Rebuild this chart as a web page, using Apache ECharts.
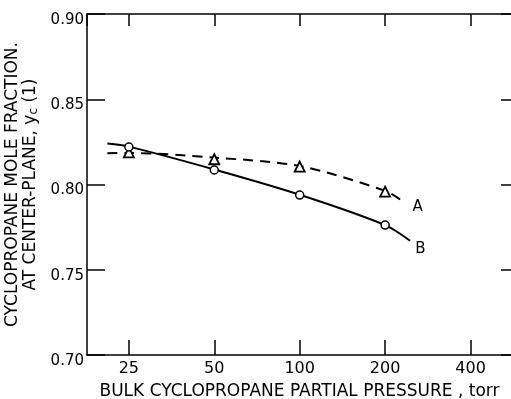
<!DOCTYPE html>
<html>
<head>
<meta charset="utf-8">
<script src="https://cdn.jsdelivr.net/npm/echarts@6/dist/echarts.min.js"></script>
<style>
  html, body { margin: 0; padding: 0; background: #fff; }
  #chart { width: 511px; height: 399px; }
</style>
</head>
<body>
<div id="chart"></div>
<script>
// x axis is logarithmic: ticks at 25, 50, 100, 200, 400 torr (doublings from 25)
const basePressure = 25
const xMinPressure = 17.8
const xMaxPressure = 560

// curve A (dashed) and curve B (solid)
const curveAPressure = [21, 25, 50, 100, 200, 234]
const curveAFraction = [0.8183, 0.8185, 0.8158, 0.8108, 0.7963, 0.7894]
const curveBPressure = [21, 25, 50, 100, 200, 245]
const curveBFraction = [0.8240, 0.8222, 0.8088, 0.7940, 0.7762, 0.7670]

// measured points
const pointPressure = [25, 50, 100, 200]
const pointsA = [0.8188, 0.8148, 0.8105, 0.7958]
const pointsB = [0.8220, 0.8085, 0.7938, 0.7762]

const lg = p => Math.log2(p / basePressure)
const pairs = (xs, ys) => xs.map((x, i) => [lg(x), ys[i]])

const font = 'DejaVu Sans'
const black = '#000'

let chart = echarts.init(document.getElementById('chart'))

const xBase = {
  type: 'value',
  min: lg(xMinPressure),
  max: lg(xMaxPressure),
  splitNumber: 5,
  axisLine: { show: true, onZero: false, lineStyle: { color: black, width: 1.5 } },
  splitLine: { show: false }
}
const yBase = {
  type: 'value',
  min: 0.70,
  max: 0.90,
  interval: 0.05,
  axisLine: { show: true, onZero: false, lineStyle: { color: black, width: 1.5 } },
  splitLine: { show: false }
}

let option = {
  animation: false,
  grid: { left: 87, right: -1, top: 14, bottom: 44, containLabel: false, outerBoundsMode: 'none' },
  xAxis: [
    Object.assign({}, xBase, {
      position: 'bottom',
      axisTick: { show: true, inside: true, length: 15, lineStyle: { color: black, width: 1.5 } },
      axisLabel: {
        showMinLabel: false,
        showMaxLabel: false,
        formatter: v => String(Math.round(basePressure * Math.pow(2, v))),
        color: black, fontFamily: font, fontSize: 16, margin: 6
      },
      name: 'BULK CYCLOPROPANE PARTIAL PRESSURE , torr',
      nameLocation: 'middle',
      nameGap: 28,
      nameTextStyle: { color: black, fontFamily: font, fontSize: 17 }
    }),
    Object.assign({}, xBase, {
      position: 'top',
      axisTick: { show: true, inside: true, length: 12, lineStyle: { color: black, width: 1.5 } },
      axisLabel: { show: false }
    })
  ],
  yAxis: [
    Object.assign({}, yBase, {
      position: 'left',
      axisTick: { show: true, inside: true, length: 18, lineStyle: { color: black, width: 1.5 } },
      axisLabel: {
        formatter: v => v.toFixed(2),
        color: black, fontFamily: font, fontSize: 15, margin: 3,
        verticalAlign: 'top', lineHeight: 12
      },
      name: '{a|CYCLOPROPANE MOLE FRACTION.}\n{a|AT CENTER-PLANE, y}{s|c}{a| (1)}',
      nameLocation: 'middle',
      nameRotate: 90,
      nameGap: 44,
      nameTextStyle: {
        color: black,
        fontFamily: font,
        fontSize: 17,
        lineHeight: 18,
        rich: {
          a: { fontFamily: font, fontSize: 17, color: black, lineHeight: 18 },
          s: { fontFamily: font, fontSize: 12, color: black, verticalAlign: 'bottom', lineHeight: 18, padding: [6, 0, 0, 0] }
        }
      }
    }),
    Object.assign({}, yBase, {
      position: 'right',
      axisTick: { show: true, inside: true, length: 11, lineStyle: { color: black, width: 1.5 } },
      axisLabel: { show: false }
    })
  ],
  series: [
    {
      name: 'A',
      type: 'line',
      smooth: 0.3,
      showSymbol: false,
      data: pairs(curveAPressure, curveAFraction),
      lineStyle: { color: black, width: 2, type: [10, 7] },
      endLabel: { show: true, formatter: 'A', color: black, fontFamily: font, fontSize: 15, distance: 8, offset: [0, 5] },
      z: 2
    },
    {
      name: 'B',
      type: 'line',
      smooth: 0.3,
      showSymbol: false,
      data: pairs(curveBPressure, curveBFraction),
      lineStyle: { color: black, width: 2 },
      endLabel: { show: true, formatter: 'B', color: black, fontFamily: font, fontSize: 15, distance: 5, offset: [0, 8] },
      z: 2
    },
    {
      name: 'A points',
      type: 'scatter',
      symbol: 'triangle',
      symbolSize: 10,
      data: pairs(pointPressure, pointsA),
      itemStyle: { color: '#fff', borderColor: black, borderWidth: 1.8, opacity: 1 },
      z: 3
    },
    {
      name: 'B points',
      type: 'scatter',
      symbol: 'circle',
      symbolSize: 8,
      data: pairs(pointPressure, pointsB),
      itemStyle: { color: '#fff', borderColor: black, borderWidth: 1.5, opacity: 1 },
      z: 3
    }
  ]
}

option && chart.setOption(option)
</script>
</body>
</html>
